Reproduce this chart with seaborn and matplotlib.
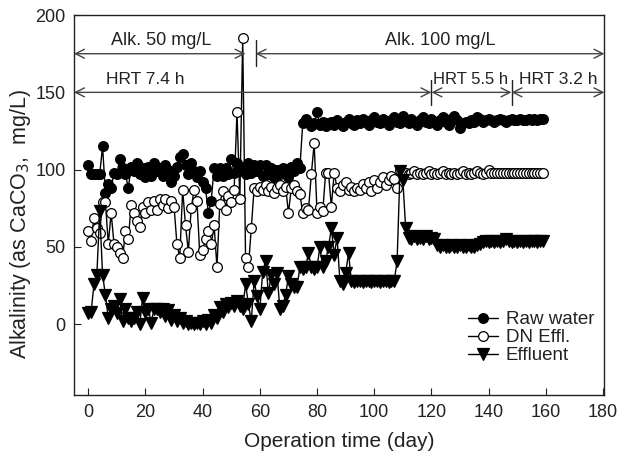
import matplotlib
matplotlib.use("Agg")
import matplotlib.pyplot as plt
import seaborn as sns
import pandas as pd

days = [
    0, 1, 2, 3, 4, 5, 6, 7, 8, 9, 10, 11, 12, 13, 14, 15, 16, 17, 18, 19,
    20, 21, 22, 23, 24, 25, 26, 27, 28, 29, 30, 31, 32, 33, 34, 35, 36, 37, 38, 39,
    40, 41, 42, 43, 44, 45, 46, 47, 48, 49, 50, 51, 52, 53, 54, 55, 56, 57, 58, 59,
    60, 61, 62, 63, 64, 65, 66, 67, 68, 69, 70, 71, 72, 73, 74, 75, 76, 77, 78, 79,
    80, 81, 82, 83, 84, 85, 86, 87, 88, 89, 90, 91, 92, 93, 94, 95, 96, 97, 98, 99,
    100, 101, 102, 103, 104, 105, 106, 107, 108, 109, 110, 111, 112, 113, 114, 115, 116, 117, 118, 119,
    120, 121, 122, 123, 124, 125, 126, 127, 128, 129, 130, 131, 132, 133, 134, 135, 136, 137, 138, 139,
    140, 141, 142, 143, 144, 145, 146, 147, 148, 149, 150, 151, 152, 153, 154, 155, 156, 157, 158, 159,
]

raw_water = [
    103, 97, 97, 97, 97, 115, 85, 91, 88, 98, 97, 107, 101, 97, 88, 102, 99, 104, 97, 101,
    95, 102, 96, 104, 99, 101, 96, 103, 100, 92, 96, 102, 108, 110, 103, 97, 104, 99, 95, 99,
    92, 88, 72, 80, 101, 96, 101, 96, 101, 97, 107, 98, 104, 99, 101, 97, 104, 98, 103, 99,
    103, 96, 103, 97, 101, 95, 100, 97, 101, 99, 95, 102, 99, 104, 101, 130, 133, 131, 128, 130,
    137, 129, 131, 128, 130, 131, 129, 132, 130, 128, 131, 133, 130, 129, 132, 130, 133, 131, 129, 132,
    134, 131, 130, 133, 131, 129, 132, 134, 131, 130, 135, 132, 130, 133, 131, 129, 132, 134, 131, 130,
    133, 131, 129, 132, 134, 131, 129, 133, 135, 132, 127, 130, 131, 130, 132, 131, 134, 133, 131, 132,
    133, 132, 131, 132, 133, 132, 131, 132, 133, 132, 132, 133, 132, 132, 133, 132, 133, 132, 133, 133,
]

dn_effl = [
    60, 54, 69, 62, 59, 79, 79, 52, 72, 52, 50, 46, 43, 60, 55, 77, 72, 67, 63, 76,
    72, 79, 74, 80, 74, 81, 77, 81, 75, 80, 76, 52, 43, 87, 64, 47, 75, 87, 80, 45,
    48, 55, 60, 52, 64, 37, 78, 86, 74, 83, 79, 87, 137, 81, 185, 43, 37, 62, 88, 86,
    89, 87, 90, 86, 89, 85, 88, 90, 86, 89, 72, 88, 90, 86, 84, 72, 75, 74, 97, 117,
    72, 76, 73, 98, 98, 76, 98, 88, 86, 90, 92, 87, 89, 86, 88, 87, 91, 88, 92, 86,
    93, 88, 92, 95, 90, 93, 96, 94, 88, 100, 97, 98, 97, 98, 99, 97, 98, 97, 98, 99,
    97, 98, 97, 98, 99, 97, 98, 97, 98, 97, 98, 99, 97, 98, 97, 98, 99, 98, 97, 98,
    100, 98, 98, 98, 98, 98, 98, 98, 98, 98, 98, 98, 98, 98, 98, 98, 98, 98, 98, 98,
]

effluent = [
    7, 8, 26, 32, 73, 32, 19, 4, 10, 12, 7, 16, 2, 10, 4, 2, 4, 8, 0, 17,
    8, 10, 1, 10, 10, 8, 10, 5, 9, 3, 6, 2, 4, 1, 2, 0, 1, 0, 1, 0,
    2, 0, 3, 1, 6, 4, 11, 8, 13, 11, 14, 12, 15, 12, 10, 26, 13, 2, 28, 18,
    10, 34, 41, 20, 32, 26, 33, 10, 12, 19, 31, 26, 24, 24, 37, 36, 37, 46, 37, 36,
    37, 50, 37, 41, 50, 62, 45, 56, 28, 26, 33, 46, 28, 27, 28, 28, 27, 28, 28, 27,
    28, 28, 27, 28, 28, 27, 28, 28, 41, 99, 93, 62, 56, 55, 57, 55, 56, 55, 57, 55,
    56, 55, 51, 50, 51, 50, 50, 51, 50, 50, 51, 50, 50, 51, 50, 50, 51, 52, 53, 54,
    53, 54, 53, 54, 53, 54, 55, 54, 53, 54, 53, 54, 53, 54, 53, 54, 54, 53, 54, 54,
]

series_names = ["Raw water", "DN Effl.", "Effluent"]
x_ticks = [0, 20, 40, 60, 80, 100, 120, 140, 160, 180]
y_ticks = [0, 50, 100, 150, 200]

sns.set_style("ticks")
plt.rcParams["font.family"] = ["Liberation Sans", "DejaVu Sans"]

TXT = "#222222"
fig = plt.figure(figsize=(6.19, 4.57), dpi=100)
ax = fig.add_axes([0.1195, 0.135, 0.857, 0.832])

df = pd.DataFrame({"day": days, "Raw water": raw_water,
                   "DN Effl.": dn_effl, "Effluent": effluent})

styles = {
    "Raw water": dict(marker="o", markerfacecolor="black", markersize=7),
    "DN Effl.": dict(marker="o", markerfacecolor="white", markersize=7),
    "Effluent": dict(marker="v", markerfacecolor="black", markersize=8.5),
}
for name in series_names:
    sns.lineplot(data=df, x="day", y=name, ax=ax, color="black", lw=1.0,
                 markeredgecolor="black", markeredgewidth=0.9,
                 estimator=None, sort=False, label=name, **styles[name])

ax.set_xlim(-5, 180.5)
ax.set_ylim(-46, 200)
ax.set_xticks(x_ticks)
ax.set_yticks(y_ticks)
ax.tick_params(direction="in", length=5, width=0.8, labelsize=13,
               colors=TXT, pad=6)
for s in ax.spines.values():
    s.set_linewidth(1.0)
    s.set_color(TXT)
ax.set_xlabel("Operation time (day)", fontsize=15, color=TXT, labelpad=8)
ax.set_ylabel("Alkalinity (as CaCO$_3$,  mg/L)", fontsize=15.5, color=TXT)
ax.yaxis.set_label_coords(-0.077, 0.45)

arrow_kw = dict(arrowstyle="<->", color="#444444", lw=1.0,
                shrinkA=0, shrinkB=0, mutation_scale=16)

def dim_arrow(x0, x1, y):
    ax.annotate("", xy=(x0, y), xytext=(x1, y), arrowprops=arrow_kw,
                annotation_clip=False)

# Alkalinity phases
dim_arrow(-5, 55, 175)
dim_arrow(58.5, 180.5, 175)
ax.plot([58.5, 58.5], [167, 184], color=TXT, lw=1.0)
ax.text(25.5, 178, "Alk. 50 mg/L", ha="center", va="bottom", fontsize=13, color=TXT)
ax.text(123, 178, "Alk. 100 mg/L", ha="center", va="bottom", fontsize=13, color=TXT)

# HRT phases
dim_arrow(-5, 120, 150)
dim_arrow(120, 148, 150)
dim_arrow(148, 180.5, 150)
ax.plot([120, 120], [142, 158], color=TXT, lw=1.0)
ax.plot([148, 148], [142, 158], color=TXT, lw=1.0)
ax.text(20, 153.5, "HRT 7.4 h", ha="center", va="bottom", fontsize=12.5, color=TXT)
ax.text(133.6, 153.5, "HRT 5.5 h", ha="center", va="bottom", fontsize=12, color=TXT)
ax.text(164.3, 153.5, "HRT 3.2 h", ha="center", va="bottom", fontsize=12.5, color=TXT)

leg = ax.legend(loc="lower right", bbox_to_anchor=(0.995, 0.062), frameon=False,
                fontsize=13.5, handlelength=1.6, handletextpad=0.4,
                labelspacing=0.05, borderaxespad=0)
for t in leg.get_texts():
    t.set_color(TXT)

fig.savefig("out.png", dpi=100)
